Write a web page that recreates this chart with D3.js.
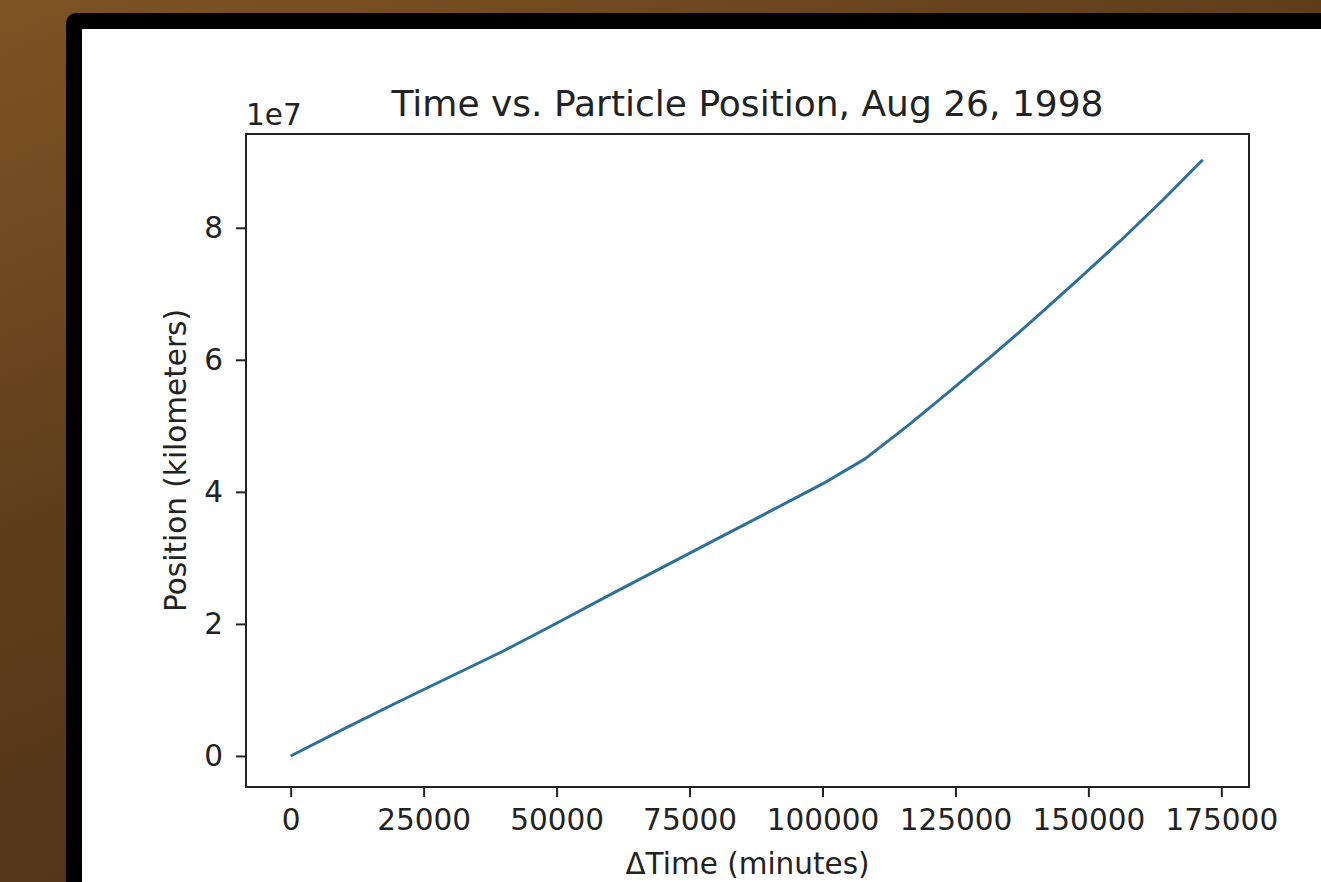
<!DOCTYPE html>
<html>
<head>
<meta charset="utf-8">
<script src="https://cdn.jsdelivr.net/npm/d3@7"></script>
<style>
  body { margin: 0; overflow: hidden; }
  text { font-family: "DejaVu Sans", sans-serif; }
</style>
</head>
<body>
<div id="chart"></div>
<script>
// minutes since start
const timeMinutes = [0, 10000, 20000, 30000, 40000, 50000, 60000, 70000, 80000, 90000,
  100000, 108000, 116000, 124000, 132000, 140000, 148000, 156000, 164000, 171500];
// position in units of 1e7 km
const positionE7 = [0, 0.41, 0.81, 1.20, 1.59, 2.01, 2.44, 2.86, 3.28, 3.70,
  4.12, 4.50, 5.00, 5.53, 6.07, 6.63, 7.21, 7.80, 8.42, 9.03];
const xTicks = [0, 25000, 50000, 75000, 100000, 125000, 150000, 175000];
const yTicks = [0, 2, 4, 6, 8];

const data = timeMinutes.map((t, i) => ({t: t, p: positionE7[i] * 1e7}));

const W = 1321, H = 882;
const margin = {top: 134, right: 72, bottom: 95, left: 246},
    width = W - margin.left - margin.right,
    height = H - margin.top - margin.bottom;

const svg = d3.select("#chart")
  .append("svg")
    .attr("width", W)
    .attr("height", H);

// wooden backdrop + black frame
const defs = svg.append("defs");
const grad = defs.append("linearGradient")
    .attr("id", "wood")
    .attr("x1", "0%").attr("y1", "0%")
    .attr("x2", "60%").attr("y2", "100%");
grad.append("stop").attr("offset", "0%").attr("stop-color", "#7e5424");
grad.append("stop").attr("offset", "45%").attr("stop-color", "#5f3d1b");
grad.append("stop").attr("offset", "100%").attr("stop-color", "#4a2f17");

svg.append("rect").attr("width", W).attr("height", H).attr("fill", "url(#wood)");
svg.append("rect")
    .attr("x", 66).attr("y", 13)
    .attr("width", W).attr("height", H)
    .attr("rx", 10)
    .attr("fill", "#000");
svg.append("rect")
    .attr("x", 82).attr("y", 29)
    .attr("width", W).attr("height", H)
    .attr("fill", "#fff");

const g = svg.append("g")
    .attr("transform", "translate(" + margin.left + "," + margin.top + ")");

const x = d3.scaleLinear()
    .domain([-8400, 180200])
    .range([0, width]);
const y = d3.scaleLinear()
    .domain([-0.47e7, 9.42e7])
    .range([height, 0]);

g.append("g")
    .attr("transform", "translate(0," + height + ")")
    .call(d3.axisBottom(x).tickValues(xTicks).tickFormat(d => d).tickSize(10).tickPadding(12).tickSizeOuter(0))
    .call(a => a.select(".domain").remove())
    .selectAll("text")
      .style("font-size", "29.5px")
      .style("fill", "#222");

g.append("g")
    .call(d3.axisLeft(y).tickValues(yTicks.map(v => v * 1e7)).tickFormat(d => d / 1e7).tickSize(10).tickPadding(13).tickSizeOuter(0))
    .call(a => a.select(".domain").remove())
    .selectAll("text")
      .style("font-size", "29.5px")
      .style("fill", "#222");

g.selectAll(".tick line")
    .attr("stroke", "#222")
    .attr("stroke-width", 2);

// the line
g.append("path")
    .datum(data)
    .attr("fill", "none")
    .attr("stroke", "#2d7099")
    .attr("stroke-width", 3)
    .attr("stroke-linejoin", "round")
    .attr("d", d3.line().x(d => x(d.t)).y(d => y(d.p)));

// spines
g.append("rect")
    .attr("width", width)
    .attr("height", height)
    .attr("fill", "none")
    .attr("stroke", "#222")
    .attr("stroke-width", 2);

g.append("text")
    .attr("x", 0)
    .attr("y", -9)
    .style("font-size", "29.5px")
    .style("fill", "#222")
    .text("1e7");

g.append("text")
    .attr("x", width / 2)
    .attr("y", -18)
    .attr("text-anchor", "middle")
    .style("font-size", "36px")
    .style("fill", "#222")
    .text("Time vs. Particle Position, Aug 26, 1998");

g.append("text")
    .attr("x", width / 2)
    .attr("y", height + 87)
    .attr("text-anchor", "middle")
    .style("font-size", "29.5px")
    .style("fill", "#222")
    .text("ΔTime (minutes)");

g.append("text")
    .attr("transform", "rotate(-90)")
    .attr("x", -height / 2)
    .attr("y", -60)
    .attr("text-anchor", "middle")
    .style("font-size", "29.5px")
    .style("fill", "#222")
    .text("Position (kilometers)");
</script>
</body>
</html>
